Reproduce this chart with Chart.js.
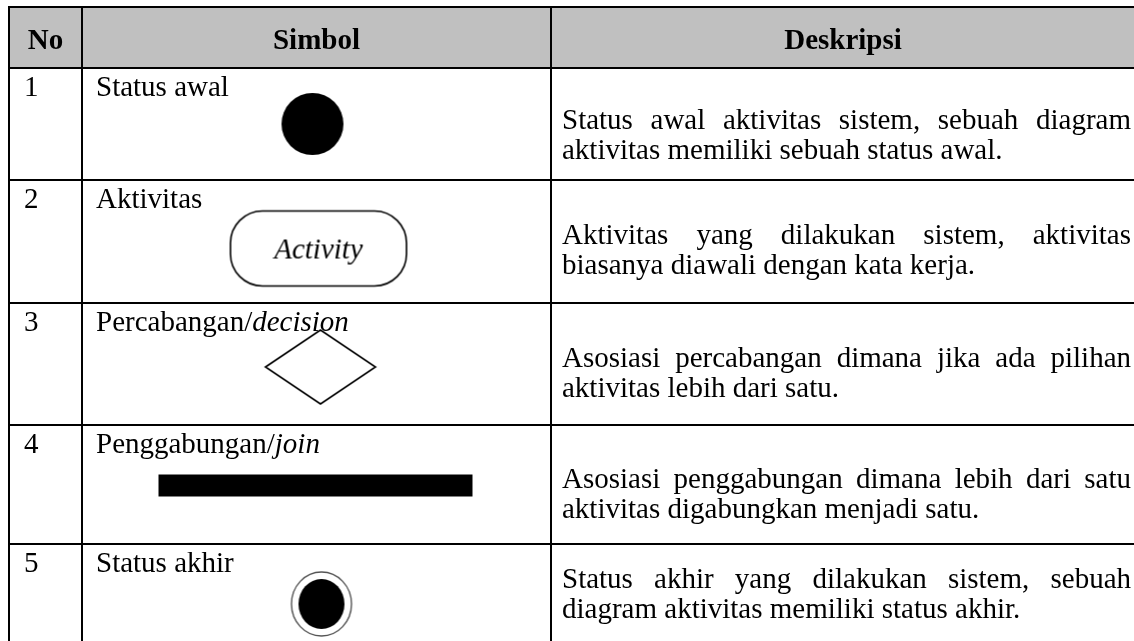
<!DOCTYPE html>
<html>
<head>
<meta charset="utf-8">
<script src="https://cdn.jsdelivr.net/npm/chart.js@4.4.0/dist/chart.umd.min.js"></script>
<style>
  html, body { margin: 0; padding: 0; background: #fff; }
  #chart { display: block; }
</style>
</head>
<body>
<canvas id="chart" width="1134" height="641"></canvas>
<script>
// table content
var headers = ['No', 'Simbol', 'Deskripsi'];
var rowNumbers = ['1', '2', '3', '4', '5'];
var symbolNames = ['Status awal', 'Aktivitas', 'Percabangan/', 'Penggabungan/', 'Status akhir'];
var symbolTerms = ['', '', 'decision', 'join', ''];
var symbolKinds = ['initial', 'activity', 'decision', 'join', 'final'];
var activityLabel = 'Activity';
var descriptions = [
    ['Status awal aktivitas sistem, sebuah diagram', 'aktivitas memiliki sebuah status awal.'],
    ['Aktivitas yang dilakukan sistem, aktivitas', 'biasanya diawali dengan kata kerja.'],
    ['Asosiasi percabangan dimana jika ada pilihan', 'aktivitas lebih dari satu.'],
    ['Asosiasi penggabungan dimana lebih dari satu', 'aktivitas digabungkan menjadi satu.'],
    ['Status akhir yang dilakukan sistem, sebuah', 'diagram aktivitas memiliki status akhir.']
];

// layout (scale units == page pixels)
var colEdges = [9, 82, 551, 1135];
var rowEdges = [7, 68, 180, 303, 425, 544, 670];
var descTop = [61, 64, 64, 63, 44];   // first baseline below the row line
var labelTop = 28;
var FONT = '"Liberation Serif", "Times New Roman", serif';
var FONT_SIZE = 29;
var LINE_H = 30;
// shift of each drawn symbol from the centre of its cell
var symbolShift = { initial: [-4, 0], activity: [2, 7], decision: [4, 3], join: [-1, 1], final: [5, -3] };

function makeCanvas(w, h) {
    var c = document.createElement('canvas');
    c.width = w;
    c.height = h;
    return c;
}

// every symbol is a point style canvas
function symbolImage(kind) {
    var s = symbolShift[kind];
    var size = { initial: [64, 64], activity: [180, 80], decision: [114, 78], join: [316, 24], final: [66, 70] }[kind];
    var pad = 20;
    var c = makeCanvas(size[0] + pad * 2, size[1] + pad * 2);
    var ctx = c.getContext('2d');
    ctx.translate(c.width / 2 + s[0], c.height / 2 + s[1]);
    ctx.fillStyle = '#000';
    ctx.strokeStyle = '#000';
    if (kind == 'initial') {
        ctx.beginPath();
        ctx.arc(0, 0, 31, 0, Math.PI * 2);
        ctx.fill();
    } else if (kind == 'activity') {
        var rw = 176, rh = 75;
        ctx.lineWidth = 1.6;
        ctx.beginPath();
        ctx.roundRect(-rw / 2, -rh / 2, rw, rh, 32);
        ctx.stroke();
        ctx.font = 'italic ' + FONT_SIZE + 'px ' + FONT;
        ctx.textAlign = 'center';
        ctx.textBaseline = 'alphabetic';
        ctx.fillText(activityLabel, 0, 10);
    } else if (kind == 'decision') {
        ctx.lineWidth = 1.6;
        ctx.beginPath();
        ctx.moveTo(-55, 0);
        ctx.lineTo(0, -37);
        ctx.lineTo(55, 0);
        ctx.lineTo(0, 37);
        ctx.closePath();
        ctx.stroke();
    } else if (kind == 'join') {
        ctx.fillRect(-157, -11, 314, 22);
    } else {
        ctx.lineWidth = 1.4;
        ctx.strokeStyle = '#555';
        ctx.beginPath();
        ctx.ellipse(0, 0, 30, 32, 0, 0, Math.PI * 2);
        ctx.stroke();
        ctx.beginPath();
        ctx.ellipse(0, 0, 23, 25, 0, 0, Math.PI * 2);
        ctx.fill();
    }
    return c;
}

function rowMid(i) {
    return (rowEdges[i + 1] + rowEdges[i + 2]) / 2;
}

var symbolCol = (colEdges[1] + colEdges[2]) / 2;
var symbolPoints = [];
var symbolStyles = [];
for (var i = 0; i < symbolKinds.length; i++) {
    symbolPoints.push({ x: symbolCol, y: rowMid(i) });
    symbolStyles.push(symbolImage(symbolKinds[i]));
}

function drawJustified(ctx, text, x, y, width) {
    var words = text.split(' ');
    var total = 0;
    for (var i = 0; i < words.length; i++) total += ctx.measureText(words[i]).width;
    var gap = (width - total) / (words.length - 1);
    var cx = x;
    for (var i = 0; i < words.length; i++) {
        ctx.fillText(words[i], cx, y);
        cx += ctx.measureText(words[i]).width + gap;
    }
}

var tablePlugin = {
    id: 'tableCells',
    beforeDraw: function (chart) {
        var ctx = chart.ctx;
        var xs = chart.scales.x, ys = chart.scales.y;
        var x0 = xs.getPixelForValue(colEdges[0]);
        var x1 = xs.getPixelForValue(colEdges[3]);
        var y0 = ys.getPixelForValue(rowEdges[0]);
        var y1 = ys.getPixelForValue(rowEdges[1]);
        ctx.save();
        ctx.fillStyle = '#c0c0c0';
        ctx.fillRect(x0, y0, x1 - x0, y1 - y0);
        ctx.restore();
    },
    afterDraw: function (chart) {
        var ctx = chart.ctx;
        var xs = chart.scales.x, ys = chart.scales.y;
        var px = function (v) { return xs.getPixelForValue(v); };
        var py = function (v) { return ys.getPixelForValue(v); };
        ctx.save();
        ctx.fillStyle = '#000';
        ctx.textBaseline = 'alphabetic';

        // header
        ctx.font = 'bold ' + FONT_SIZE + 'px ' + FONT;
        ctx.textAlign = 'center';
        for (var c = 0; c < headers.length; c++) {
            ctx.fillText(headers[c], (px(colEdges[c]) + px(colEdges[c + 1])) / 2, py(rowEdges[0]) + 42);
        }

        ctx.textAlign = 'left';
        for (var r = 0; r < rowNumbers.length; r++) {
            var top = py(rowEdges[r + 1]);
            ctx.font = FONT_SIZE + 'px ' + FONT;
            ctx.fillText(rowNumbers[r], px(colEdges[0]) + 15, top + labelTop);
            var nx = px(colEdges[1]) + 14;
            ctx.fillText(symbolNames[r], nx, top + labelTop);
            if (symbolTerms[r]) {
                var w = ctx.measureText(symbolNames[r]).width;
                ctx.font = 'italic ' + FONT_SIZE + 'px ' + FONT;
                ctx.fillText(symbolTerms[r], nx + w, top + labelTop);
                ctx.font = FONT_SIZE + 'px ' + FONT;
            }
            var lines = descriptions[r];
            var by = top + descTop[r];
            var dx = px(colEdges[2]) + 11;
            for (var l = 0; l < lines.length; l++) {
                if (l < lines.length - 1) {
                    drawJustified(ctx, lines[l], dx, by + l * LINE_H, 1131 - dx);
                } else {
                    ctx.fillText(lines[l], dx, by + l * LINE_H);
                }
            }
        }
        ctx.restore();
    }
};

function gridTicks(values, lo, hi) {
    return function (scale) {
        scale.ticks = values.filter(function (v) { return v >= lo && v <= hi; })
            .map(function (v) { return { value: v }; });
    };
}

var ctx = document.getElementById('chart').getContext('2d');
var chart = new Chart(ctx, {
    type: 'scatter',
    data: {
        datasets: [{
            label: 'Simbol',
            data: symbolPoints,
            pointStyle: symbolStyles,
            pointRadius: 30,
            pointHoverRadius: 30,
            clip: false
        }]
    },
    options: {
        responsive: false,
        devicePixelRatio: 1,
        animation: false,
        events: [],
        layout: { autoPadding: false, padding: { left: 8, top: 6, right: 0, bottom: 0 } },
        plugins: { legend: { display: false }, tooltip: { enabled: false } },
        scales: {
            x: {
                type: 'linear', min: 8, max: 1134,
                afterBuildTicks: gridTicks(colEdges, 8, 1134),
                grid: { color: '#000', lineWidth: 2, drawTicks: false },
                border: { display: false },
                ticks: { display: false }
            },
            y: {
                type: 'linear', min: 6, max: 641, reverse: true,
                afterBuildTicks: gridTicks(rowEdges, 6, 641),
                grid: { color: '#000', lineWidth: 2, drawTicks: false },
                border: { display: false },
                ticks: { display: false }
            }
        }
    },
    plugins: [tablePlugin]
});
</script>
</body>
</html>
